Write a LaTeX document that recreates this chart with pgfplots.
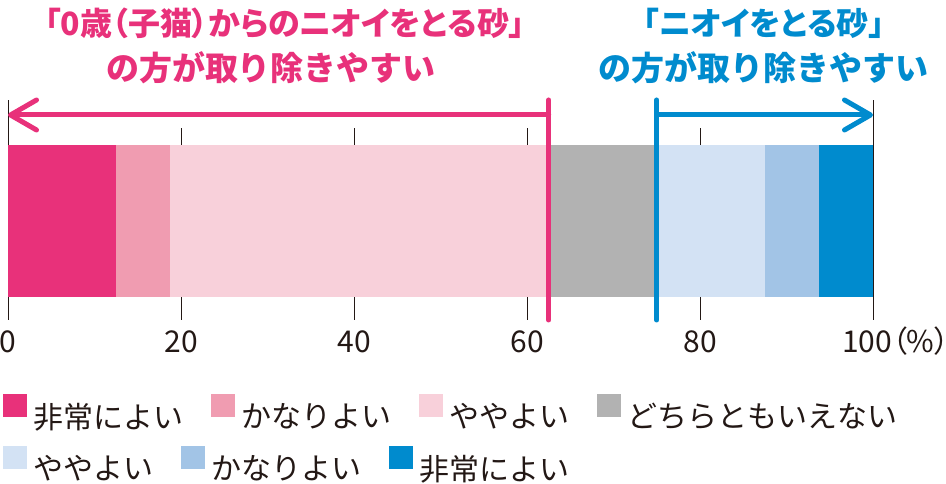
\documentclass[border=0pt]{standalone}
\usepackage{fontspec}
\setmainfont{Noto Sans CJK JP}
\newfontfamily\paltfont{Noto Sans CJK JP}[RawFeature=+palt]
\usepackage{pgfplots}
\pgfplotsset{compat=1.18}
\usetikzlibrary{arrows.meta}

\definecolor{c1}{HTML}{E8317A}
\definecolor{c2}{HTML}{F09CB1}
\definecolor{c3}{HTML}{F8D0DA}
\definecolor{c4}{HTML}{B2B2B2}
\definecolor{c5}{HTML}{D3E2F4}
\definecolor{c6}{HTML}{A2C4E6}
\definecolor{c7}{HTML}{008BCE}
\definecolor{ink}{HTML}{231815}

\pgfplotsset{
  base/.style={scale only axis, width=865pt, height=220pt,
    at={(8pt,164pt)}, anchor=south west,
    xmin=0, xmax=100, ymin=0, ymax=220, clip=false},
  leg/.style={legend style={draw=none, fill=none, inner sep=0pt, outer sep=0pt,
    font=\fontsize{30}{32}\selectfont, text=ink, anchor=west,
    nodes={inner sep=0pt},
    /tikz/every odd column/.style={column sep=7pt},
    /tikz/every even column/.style={column sep=27pt}}},
}

\begin{document}
\begin{tikzpicture}
\useasboundingbox (0,0) rectangle (946pt,484pt);

% grid lines + second legend row
\begin{axis}[base, hide axis, leg,
  legend columns=3,
  legend style={at={(-0.00578,-0.6545)}},
  legend image code/.code={\fill[#1] (0pt,-1pt) rectangle (24pt,22pt);}]
  \addplot[ink, line width=0.9pt, forget plot] coordinates {(0,0) (0,220)};
  \addplot[ink, line width=0.9pt, forget plot] coordinates {(20,0) (20,192)};
  \addplot[ink, line width=0.9pt, forget plot] coordinates {(40,0) (40,192)};
  \addplot[ink, line width=0.9pt, forget plot] coordinates {(60,0) (60,192)};
  \addplot[ink, line width=0.9pt, forget plot] coordinates {(80,0) (80,192)};
  \addplot[ink, line width=0.9pt, forget plot] coordinates {(100,0) (100,220)};
  \addlegendimage{fill=c5, draw=none}
  \addlegendentry{ややよい}
  \addlegendimage{fill=c6, draw=none}
  \addlegendentry{かなりよい}
  \addlegendimage{fill=c7, draw=none}
  \addlegendentry{非常によい}
\end{axis}

% stacked bar
\begin{axis}[base, xbar stacked, bar width=152pt,
  axis line style={draw=none}, tick style={draw=none},
  ytick=\empty,
  xtick={0,20,40,60,80,100},
  xticklabels={0,20,40,60,80,{\makebox[0pt][l]{\hspace{-31pt}\paltfont 100（\%）}}},
  xticklabel style={anchor=base, inner sep=0pt, yshift=-33pt,
    font=\fontsize{30}{34}\selectfont, text=ink},
  leg, legend columns=4,
  legend style={at={(-0.00578,-0.41818)}},
  legend image code/.code={\fill[#1] (0pt,-1pt) rectangle (24pt,22pt);}]
  \addplot[fill=c1, draw=none] coordinates {(12.5,99)};
  \addplot[fill=c2, draw=none] coordinates {(6.25,99)};
  \addplot[fill=c3, draw=none] coordinates {(43.75,99)};
  \addplot[fill=c4, draw=none] coordinates {(12.5,99)};
  \addplot[fill=c5, draw=none, forget plot] coordinates {(12.5,99)};
  \addplot[fill=c6, draw=none, forget plot] coordinates {(6.25,99)};
  \addplot[fill=c7, draw=none, forget plot] coordinates {(6.25,99)};
  \legend{非常によい, かなりよい, ややよい, どちらともいえない}
\end{axis}

% markers and arrows
\begin{axis}[base, hide axis]
  \addplot[c1, line width=5pt, line cap=round] coordinates {(62.5,0) (62.5,220)};
  \addplot[c1, line width=5pt, line cap=round,
    -{Straight Barb[length=26pt, width=30pt, round]}] coordinates {(62.5,205) (0,205)};
  \addplot[c7, line width=5pt, line cap=round] coordinates {(75,0) (75,220)};
  \addplot[c7, line width=5pt, line cap=round,
    -{Straight Barb[length=26pt, width=30pt, round]}] coordinates {(75,205) (100,205)};
\end{axis}

\node[text=c1, font=\paltfont\bfseries\fontsize{32}{36}\selectfont, inner sep=0pt]
  at (285pt,461pt) {「0歳（子猫）からのニオイをとる砂」};
\node[text=c1, font=\bfseries\fontsize{33}{36}\selectfont, inner sep=0pt]
  at (271pt,416pt) {の方が取り除きやすい};
\node[text=c7, font=\paltfont\bfseries\fontsize{32}{36}\selectfont, inner sep=0pt]
  at (764pt,461pt) {「ニオイをとる砂」};
\node[text=c7, font=\bfseries\fontsize{33}{36}\selectfont, inner sep=0pt]
  at (763pt,416pt) {の方が取り除きやすい};
\end{tikzpicture}
\end{document}
